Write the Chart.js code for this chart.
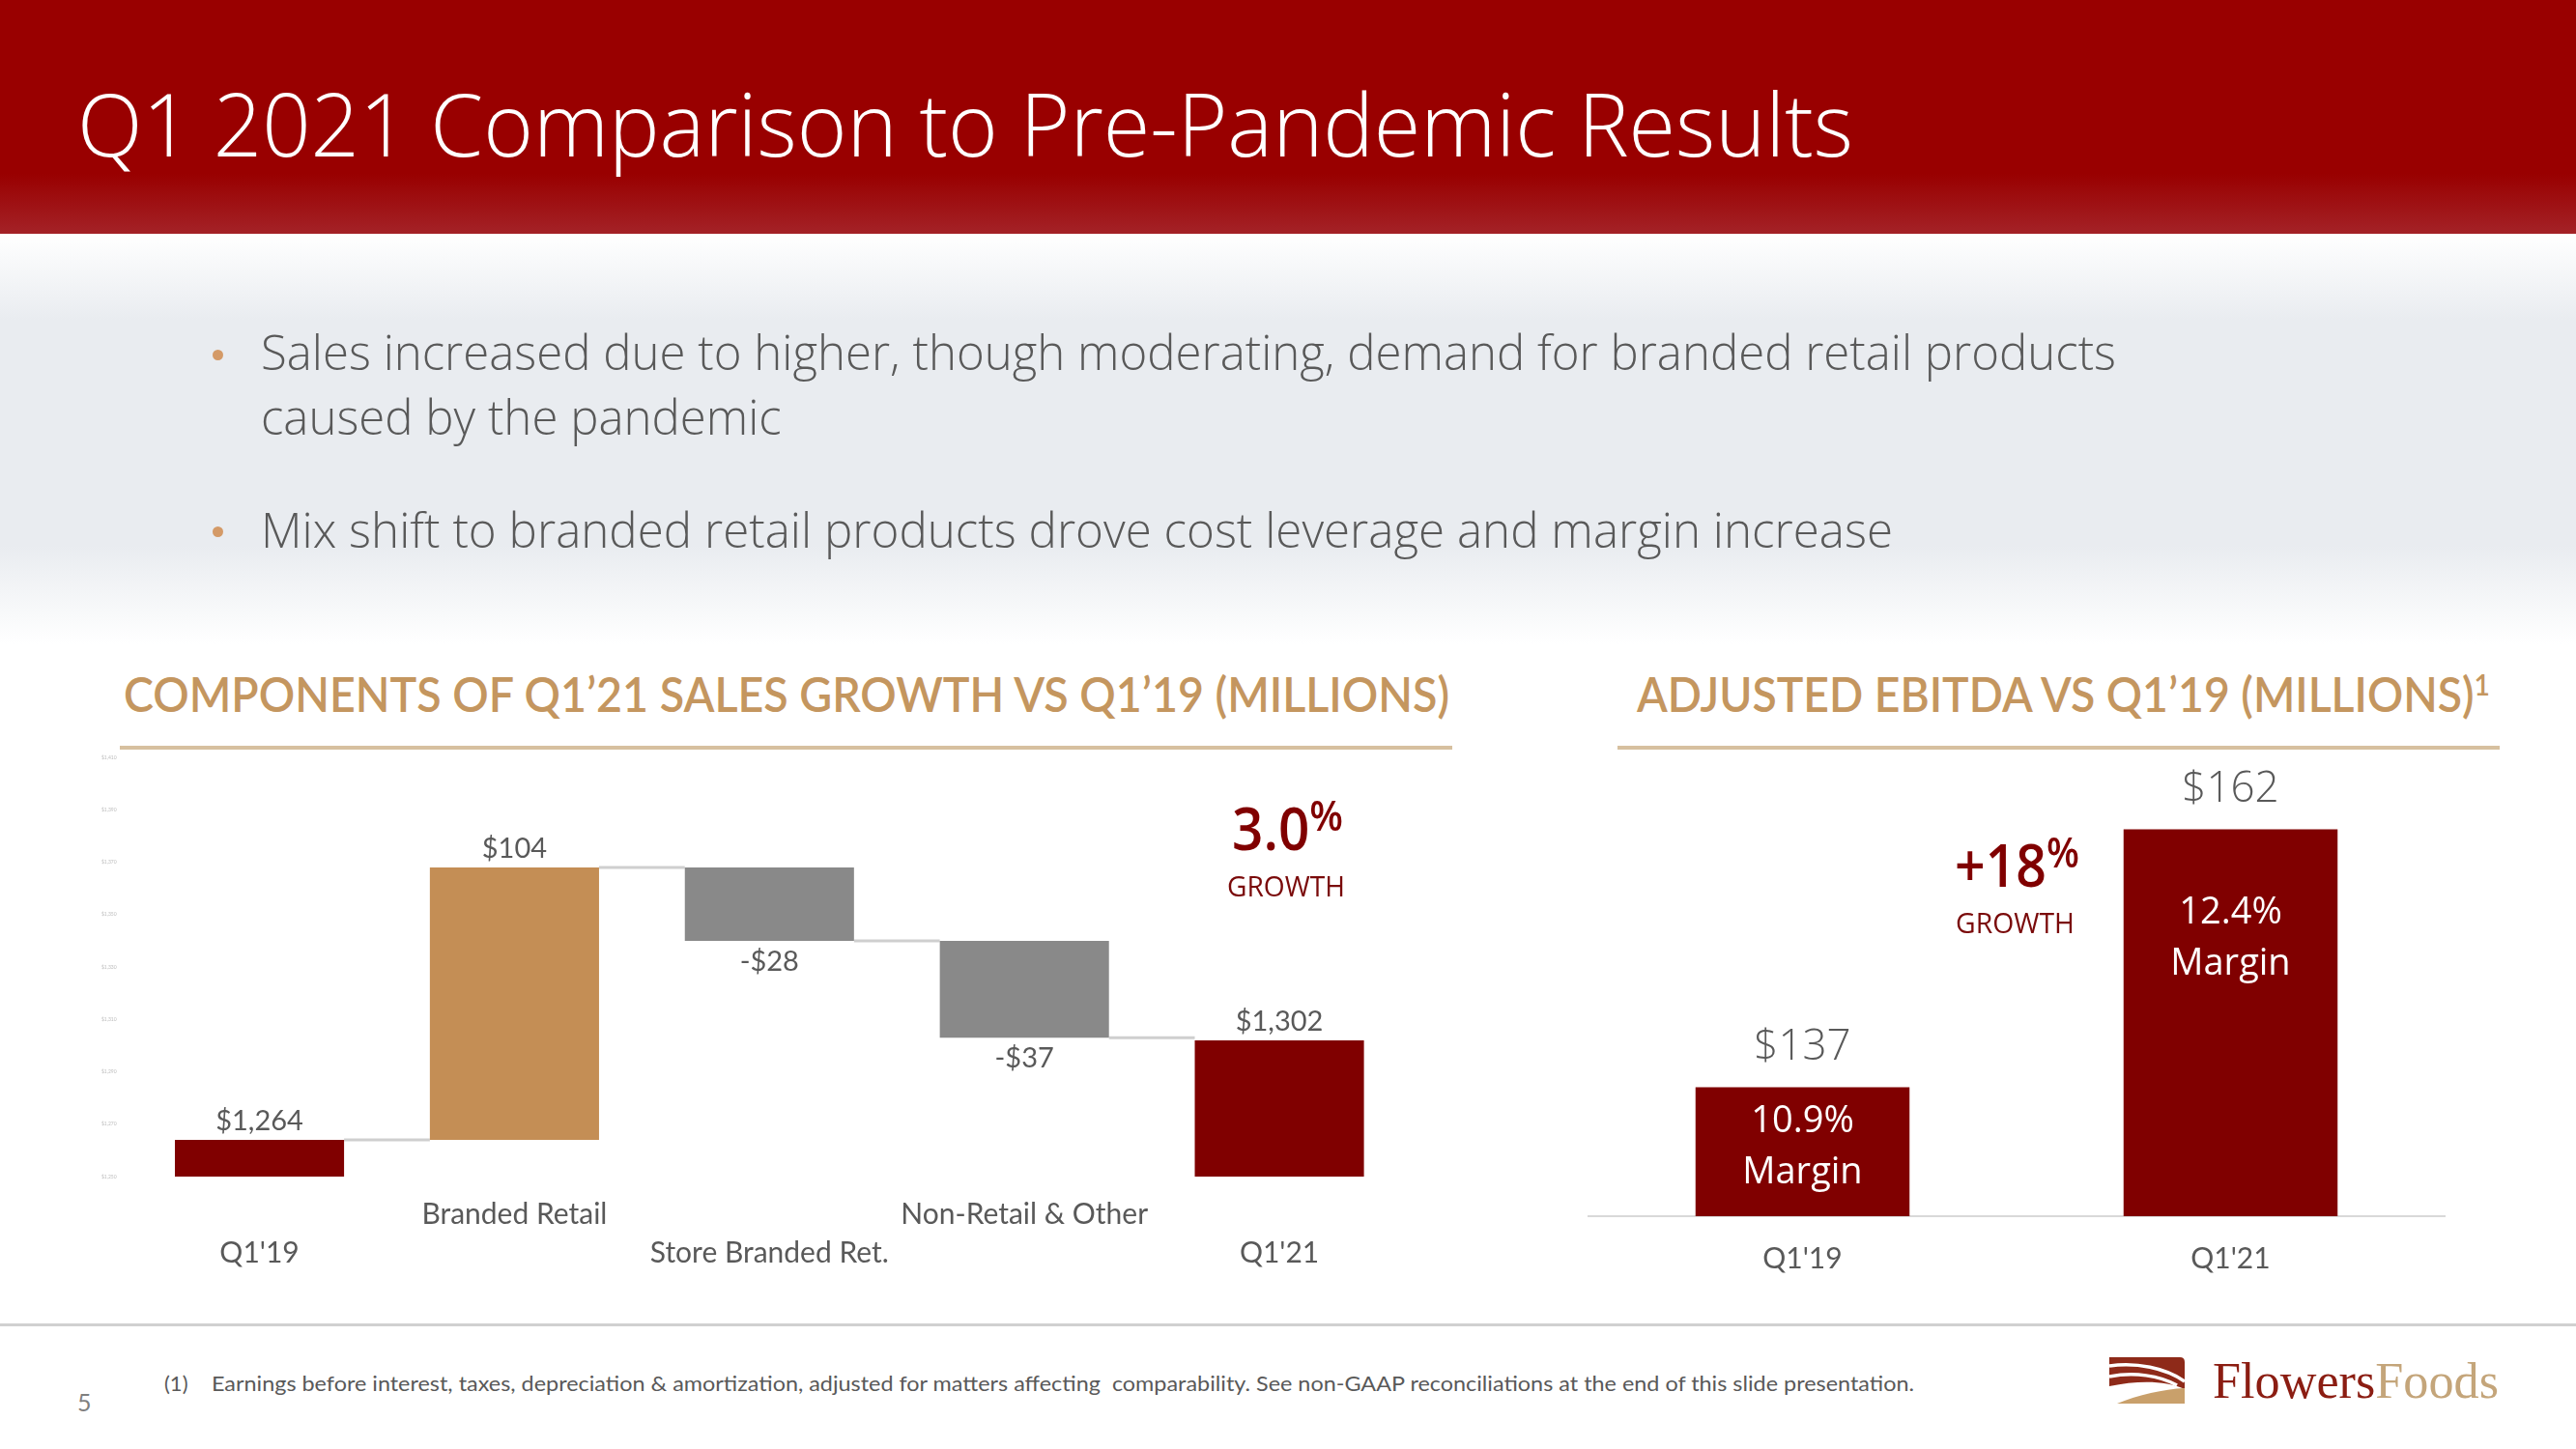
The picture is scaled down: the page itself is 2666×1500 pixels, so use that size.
<!DOCTYPE html>
<html lang="en">
<head>
<meta charset="utf-8">
<title>Q1 2021 Comparison to Pre-Pandemic Results</title>
<script src="https://cdn.jsdelivr.net/npm/chart.js@4.4.1/dist/chart.umd.min.js"></script>
<style>
html,body{margin:0;padding:0;background:#fff;}
body{width:2666px;height:1500px;position:relative;overflow:hidden;}
.abs{position:absolute;}
.txt{position:absolute;white-space:nowrap;line-height:1;transform-origin:0 0;}
#header{left:0;top:0;width:2666px;height:242px;background:linear-gradient(to bottom,#990000 0px,#990000 180px,#A42227 242px);}
#band{left:0;top:242px;width:2666px;height:425px;background:linear-gradient(to bottom,#ffffff 0%,#E9ECF0 21%,#E9ECF0 76%,#ffffff 100%);}
.os{font-family:"Open Sans",sans-serif;}
.lato{font-family:Lato,sans-serif;}
#title{color:#fff;font-weight:300;font-size:91px;}
.bul{color:#595959;font-weight:300;font-size:50px;}
.dot{position:absolute;width:11px;height:11px;border-radius:50%;background:#D49A67;}
.ctitle{color:#C4965F;font-weight:600;font-size:49px;}
.ctitle .sup{font-size:30px;position:relative;top:-17px;}
.uline{position:absolute;height:4px;background:#D7C09F;top:772px;}
.grow{color:#800000;font-weight:600;font-size:62px;}
.pct{font-size:44px;position:relative;top:-20px;}
.growlbl{color:#7A0A0A;font-weight:400;font-size:29px;}
#footline{left:0;top:1370px;width:2666px;height:3px;background:#D0D0D0;}
.fn{color:#595959;font-size:22px;}
.logo{font-family:"Liberation Serif","DejaVu Serif",serif;font-size:53px;}
canvas{position:absolute;}
</style>
</head>
<body>
<div id="header" class="abs"></div>
<div id="band" class="abs"></div>
<div id="title" class="txt os">Q1 2021 Comparison to Pre-Pandemic Results</div>

<div class="dot" style="left:220px;top:362px;"></div>
<div class="dot" style="left:220px;top:545px;"></div>
<div id="b1" class="txt os bul">Sales increased due to higher, though moderating, demand for branded retail products</div>
<div id="b2" class="txt os bul">caused by the pandemic</div>
<div id="b3" class="txt os bul">Mix shift to branded retail products drove cost leverage and margin increase</div>

<div id="ct1" class="txt lato ctitle">COMPONENTS OF Q1’21 SALES GROWTH VS Q1’19 (MILLIONS)</div>
<div id="ct2" class="txt lato ctitle">ADJUSTED EBITDA VS Q1’19 (MILLIONS)<span class="sup">1</span></div>
<div class="uline" style="left:124px;width:1379px;"></div>
<div class="uline" style="left:1674px;width:913px;"></div>

<canvas id="wf" width="1480" height="580" style="left:0px;top:740px;"></canvas>
<canvas id="eb" width="960" height="580" style="left:1620px;top:760px;"></canvas>

<div id="g1" class="txt os grow"><span id="g1v"></span><span class="pct">%</span></div>
<div id="g1b" class="txt os growlbl">GROWTH</div>
<div id="g2" class="txt os grow"><span id="g2v"></span><span class="pct">%</span></div>
<div id="g2b" class="txt os growlbl">GROWTH</div>

<div id="footline" class="abs"></div>
<div id="fn1" class="txt lato fn">(1)</div>
<div id="fn2" class="txt lato fn">Earnings before interest, taxes, depreciation &amp; amortization, adjusted for matters affecting&nbsp; comparability. See non-GAAP reconciliations at the end of this slide presentation.</div>
<div id="pg" class="txt lato fn" style="color:#7F7F7F;font-size:25px;">5</div>

<svg class="abs" style="left:2183px;top:1405px;" width="78" height="48" viewBox="0 0 78 48">
  <path d="M0 0 H73 Q78 0 78 5 V33 C58 24 30 24 0 30 Z" fill="#8E2A19"/>
  <path d="M0 9 C28 5 58 11 78 25" stroke="#fff" stroke-width="3.5" fill="none"/>
  <path d="M0 20 C26 15 52 19 70 29" stroke="#fff" stroke-width="3.5" fill="none"/>
  <path d="M8 48 C30 39 56 33 78 32 V48 Z" fill="#C9A06B"/>
</svg>
<div id="logo" class="txt logo"><span style="color:#8B1D12;">Flowers</span><span style="color:#C4A57A;">Foods</span></div>

<script>
// ---------------- DATA ----------------
const wfCategories = ["Q1'19", "Branded Retail", "Store Branded Ret.", "Non-Retail & Other", "Q1'21"];
const wfStartValue = 1264;
const wfChangeValues = [104, -28, -37];
const wfEndValue = 1302;
const wfTickValues = [1250, 1270, 1290, 1310, 1330, 1350, 1370, 1390, 1410];

const ebitdaCategories = ["Q1'19", "Q1'21"];
const ebitdaValues = [137, 162];
const ebitdaMargins = ["10.9%", "12.4%"];

const salesGrowthPct = "3.0";
const ebitdaGrowthPct = "+18";

// ---------------- derived waterfall ranges ----------------
const wfMin = wfTickValues[0];
const wfMax = wfTickValues[wfTickValues.length - 1];
const wfBars = [[wfMin, wfStartValue]];
const wfLevels = [wfStartValue];
const wfLabelValues = [wfStartValue];
let running = wfStartValue;
wfChangeValues.forEach(d => {
  const next = running + d;
  wfBars.push([Math.min(running, next), Math.max(running, next)]);
  wfLabelValues.push(d);
  running = next;
  wfLevels.push(running);
});
wfBars.push([wfMin, wfEndValue]);
wfLabelValues.push(wfEndValue);

const wfColors = ['#800000', '#C48E55', '#898989', '#898989', '#800000'];

function money(v) {
  return (v < 0 ? '-$' : '$') + Math.abs(v).toLocaleString('en-US');
}

Chart.defaults.font.family = 'Lato';

const wfPlugin = {
  id: 'wfDecor',
  beforeDatasetsDraw(chart) {
    const ctx = chart.ctx, meta = chart.getDatasetMeta(0), ys = chart.scales.y;
    ctx.save();
    ctx.strokeStyle = '#CFCFCF';
    ctx.lineWidth = 3;
    for (let i = 0; i < meta.data.length - 1; i++) {
      const a = meta.data[i], b = meta.data[i + 1];
      const yy = ys.getPixelForValue(wfLevels[i]);
      ctx.beginPath();
      ctx.moveTo(a.x + a.width / 2, yy);
      ctx.lineTo(b.x - b.width / 2, yy);
      ctx.stroke();
    }
    ctx.restore();
  },
  afterDatasetsDraw(chart) {
    const ctx = chart.ctx, meta = chart.getDatasetMeta(0);
    ctx.save();
    ctx.font = '400 29px Lato';
    ctx.fillStyle = '#595959';
    ctx.textAlign = 'center';
    ctx.textBaseline = 'alphabetic';
    meta.data.forEach((bar, i) => {
      const top = Math.min(bar.y, bar.base), bottom = Math.max(bar.y, bar.base);
      const v = wfLabelValues[i];
      if (v < 0) ctx.fillText(money(v), bar.x, bottom + 31);
      else ctx.fillText(money(v), bar.x, top - 10);
    });
    ctx.restore();
  }
};

new Chart(document.getElementById('wf'), {
  type: 'bar',
  data: {
    labels: wfCategories,
    datasets: [{
      data: wfBars,
      backgroundColor: wfColors,
      barPercentage: 0.6635,
      categoryPercentage: 1,
      borderWidth: 0,
      borderSkipped: false
    }]
  },
  options: {
    responsive: false,
    animation: false,
    devicePixelRatio: 1,
    layout: { padding: { left: 0, right: 24, top: 44, bottom: 0 } },
    plugins: { legend: { display: false }, tooltip: { enabled: false } },
    scales: {
      x: {
        grid: { display: false, drawTicks: false },
        border: { display: false },
        ticks: {
          font: { family: 'Lato', size: 30, lineHeight: 1.35 },
          color: '#595959',
          padding: 19,
          maxRotation: 0,
          autoSkip: false,
          callback: function (v, i) {
            const l = this.getLabelForValue(v);
            return i % 2 ? [l, ''] : ['', l];
          }
        },
        afterFit: s => { s.height = 102; }
      },
      y: {
        min: wfMin,
        max: wfMax,
        grid: { display: false, drawTicks: false },
        border: { display: false },
        ticks: {
          font: { family: 'Lato', size: 5 },
          color: '#BDBDBD',
          padding: 16,
          callback: v => '$' + Number(v).toLocaleString('en-US')
        },
        afterBuildTicks: s => { s.ticks = wfTickValues.map(v => ({ value: v })); },
        afterFit: s => { s.width = 136.6; }
      }
    }
  },
  plugins: [wfPlugin]
});

const ebPlugin = {
  id: 'ebDecor',
  afterDatasetsDraw(chart) {
    const ctx = chart.ctx, meta = chart.getDatasetMeta(0);
    const innerOffsets = [46.5, 97.5];
    ctx.save();
    ctx.textAlign = 'center';
    ctx.textBaseline = 'alphabetic';
    meta.data.forEach((bar, i) => {
      const top = Math.min(bar.y, bar.base);
      ctx.font = '300 44px "Open Sans"';
      ctx.fillStyle = '#595959';
      ctx.fillText('$' + ebitdaValues[i], bar.x, top - 28);
      ctx.font = '400 38px "Open Sans"';
      ctx.fillStyle = '#FFFFFF';
      ctx.fillText(ebitdaMargins[i], bar.x, top + innerOffsets[i]);
      ctx.fillText('Margin', bar.x, top + innerOffsets[i] + 53);
    });
    ctx.restore();
  }
};

new Chart(document.getElementById('eb'), {
  type: 'bar',
  data: {
    labels: ebitdaCategories,
    datasets: [{
      data: ebitdaValues,
      backgroundColor: '#800000',
      barPercentage: 0.5,
      categoryPercentage: 1,
      borderWidth: 0
    }]
  },
  options: {
    responsive: false,
    animation: false,
    devicePixelRatio: 1,
    layout: { padding: { left: 24, right: 50, top: 13, bottom: 0 } },
    plugins: { legend: { display: false }, tooltip: { enabled: false } },
    scales: {
      x: {
        grid: { display: false, drawTicks: false },
        border: { display: true, color: '#D9D9D9', width: 2 },
        ticks: { font: { family: 'Lato', size: 30 }, color: '#595959', padding: 26 },
        afterFit: s => { s.height = 81; }
      },
      y: { display: false, min: 124.5, max: 170 }
    }
  },
  plugins: [ebPlugin]
});

// ---------------- text placement ----------------
document.getElementById('g1v').textContent = salesGrowthPct;
document.getElementById('g2v').textContent = ebitdaGrowthPct;

function place(id, x1, baseline, x2, scale) {
  const el = document.getElementById(id);
  el.style.left = x1 + 'px';
  el.style.top = '0px';
  el.style.transform = 'none';
  const mk = document.createElement('span');
  mk.style.cssText = 'display:inline-block;width:0;height:0;vertical-align:baseline;';
  el.appendChild(mk);
  const r = el.getBoundingClientRect();
  const b = mk.getBoundingClientRect().top - r.top;
  el.style.top = (baseline - b) + 'px';
  let s = scale || 1;
  if (x2 != null) s = (x2 - x1) / r.width;
  el.style.transform = 'scaleX(' + s + ')';
  return s;
}

place('title', 80, 162, 1918);
const sb = place('b1', 270, 383, 2190);
place('b2', 270, 450, null, sb);
place('b3', 270, 567, 1959);
place('ct1', 128, 737, 1500);
place('ct2', 1694, 737, 2577);
place('g1', 1275, 880, 1390);
place('g1b', 1270, 928, 1392);
place('g2', 2023, 918, 2152);
place('g2b', 2024, 966, 2147);
place('fn1', 170, 1440);
place('fn2', 219, 1440, 1981);
place('pg', 80, 1461);
place('logo', 2290, 1447, 2586);
</script>
</body>
</html>
